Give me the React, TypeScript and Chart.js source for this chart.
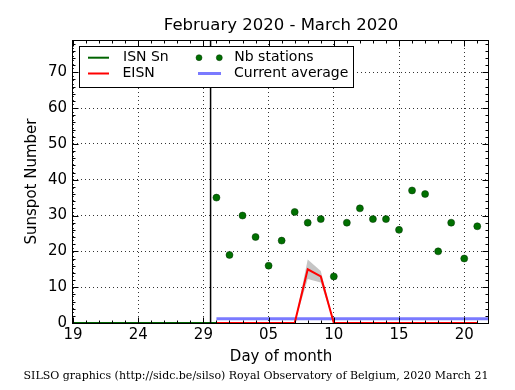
import React, { useEffect, useRef } from 'react';
import { Chart, registerables } from 'chart.js';

Chart.register(...registerables);

// ---------- data ----------
const START = Date.UTC(2020, 1, 19);
const dayX = (iso: string) => (Date.parse(iso + 'T00:00:00Z') - START) / 864e5;

const isnDates = [
  '2020-02-19', '2020-02-20', '2020-02-21', '2020-02-22', '2020-02-23', '2020-02-24',
  '2020-02-25', '2020-02-26', '2020-02-27', '2020-02-28', '2020-02-29', '2020-03-01',
];
const isnValues = [0, 0, 0, 0, 0, 0, 0, 0, 0, 0, 0, 0];

const marchDates = [
  '2020-03-01', '2020-03-02', '2020-03-03', '2020-03-04', '2020-03-05', '2020-03-06',
  '2020-03-07', '2020-03-08', '2020-03-09', '2020-03-10', '2020-03-11', '2020-03-12',
  '2020-03-13', '2020-03-14', '2020-03-15', '2020-03-16', '2020-03-17', '2020-03-18',
  '2020-03-19', '2020-03-20', '2020-03-21',
];
const nbStations = [35, 19, 30, 24, 16, 23, 31, 28, 29, 13, 28, 32, 29, 29, 26, 37, 36, 20, 28, 18, 27];
const eisnValues = [0, 0, 0, 0, 0, 0, 0, 15, 13, 0, 0, 0, 0, 0, 0, 0, 0, 0, 0, 0, 0];
const eisnLower = [0, 0, 0, 0, 0, 0, 0, 12.3, 11.3, 0, 0, 0, 0, 0, 0, 0, 0, 0, 0, 0, 0];
const eisnUpper = [0, 0, 0, 0, 0, 0, 0, 17.7, 14.5, 0, 0, 0, 0, 0, 0, 0, 0, 0, 0, 0, 0];

const currentAverage = 1.2;
const averageDates = ['2020-03-01', '2020-03-22'];

const xTickDates = ['2020-02-19', '2020-02-24', '2020-02-29', '2020-03-05', '2020-03-10', '2020-03-15', '2020-03-20'];
const xTickLabels = ['19', '24', '29', '05', '10', '15', '20'];
const yTicks = [0, 10, 20, 30, 40, 50, 60, 70];

const X_MIN = 0;
const X_MAX = 31.9;
const Y_MIN = 0;
const Y_MAX = 79;
const monthSeparator = 10.55;

const titleText = 'February 2020 - March 2020';
const xTitle = 'Day of month';
const yTitle = 'Sunspot Number';
const footerText = 'SILSO graphics (http://sidc.be/silso) Royal Observatory of Belgium, 2020 March 21';
const legendLabels = ['ISN Sn', 'EISN', 'Nb stations', 'Current average'];

// ---------- styles ----------
const FONT = 'DejaVu Sans';
const GREEN = '#006400';
const DOT = '#007000';
const RED = '#ff0000';
const BLUE = 'rgba(40,40,255,0.62)';
const BAND = 'rgba(140,140,140,0.5)';

const framePlugin = {
  id: 'frameTicks',
  afterDatasetsDraw(chart: any) {
    const { ctx, chartArea, scales } = chart;
    const { left, right, top, bottom } = chartArea;
    const x = scales.x;
    const y = scales.y;
    const L = Math.round(left) - 0.5;
    const R = Math.round(right) - 0.5;
    const T = Math.round(top) + 0.5;
    const B = Math.round(bottom) + 0.5;
    ctx.save();
    ctx.strokeStyle = '#000';
    // month separator
    const sx = x.getPixelForValue(monthSeparator);
    ctx.lineWidth = 1.5;
    ctx.beginPath();
    ctx.moveTo(sx, top);
    ctx.lineTo(sx, bottom);
    ctx.stroke();
    // ticks
    ctx.lineWidth = 1;
    ctx.beginPath();
    for (let d = 0; d <= Math.floor(X_MAX); d++) {
      const px = Math.round(x.getPixelForValue(d)) + 0.5;
      const len = d % 5 === 0 ? 6 : 3;
      ctx.moveTo(px, B);
      ctx.lineTo(px, B - len);
      ctx.moveTo(px, T);
      ctx.lineTo(px, T + len);
    }
    for (let v = 0; v <= Y_MAX; v += 2) {
      const py = Math.round(y.getPixelForValue(v)) + 0.5;
      const len = v % 10 === 0 ? 6 : 3;
      ctx.moveTo(L, py);
      ctx.lineTo(L + len, py);
      ctx.moveTo(R, py);
      ctx.lineTo(R - len, py);
    }
    ctx.stroke();
    // frame
    ctx.lineWidth = 1;
    ctx.strokeRect(L, T, R - L, B - T);
    ctx.restore();
  },
};

const legendPlugin = {
  id: 'customLegend',
  afterDraw(chart: any) {
    const { ctx } = chart;
    ctx.save();
    ctx.fillStyle = '#fff';
    ctx.fillRect(79.5, 46.5, 274, 41);
    ctx.strokeStyle = '#000';
    ctx.lineWidth = 1;
    ctx.strokeRect(79.5, 46.5, 274, 41);
    const r1 = 57.7;
    const r2 = 73.5;
    ctx.lineWidth = 2;
    ctx.strokeStyle = GREEN;
    ctx.beginPath();
    ctx.moveTo(88, r1);
    ctx.lineTo(109, r1);
    ctx.stroke();
    ctx.strokeStyle = RED;
    ctx.beginPath();
    ctx.moveTo(88, r2);
    ctx.lineTo(109, r2);
    ctx.stroke();
    ctx.fillStyle = DOT;
    ctx.strokeStyle = '#003000';
    ctx.lineWidth = 0.5;
    [199, 219.3].forEach((cx) => {
      ctx.beginPath();
      ctx.arc(cx, r1, 3, 0, Math.PI * 2);
      ctx.fill();
      ctx.stroke();
    });
    ctx.strokeStyle = BLUE;
    ctx.lineWidth = 3;
    ctx.beginPath();
    ctx.moveTo(198, r2);
    ctx.lineTo(221, r2);
    ctx.stroke();
    ctx.fillStyle = '#000';
    ctx.font = `14px "${FONT}"`;
    ctx.textBaseline = 'middle';
    ctx.textAlign = 'left';
    ctx.fillText(legendLabels[0], 123, r1);
    ctx.fillText(legendLabels[1], 122.5, r2);
    ctx.fillText(legendLabels[2], 234.3, r1);
    ctx.fillText(legendLabels[3], 234, r2);
    // footer
    ctx.font = '11px "DejaVu Serif"';
    ctx.textAlign = 'center';
    ctx.fillText(footerText, 256, 376);
    ctx.restore();
  },
};

export default function App() {
  const ref = useRef<HTMLCanvasElement>(null);
  useEffect(() => {
    document.body.style.margin = '0';
    const canvas = ref.current!;
    const isnData = isnDates.map((d, i) => ({ x: dayX(d), y: isnValues[i] }));
    const nbData = marchDates.map((d, i) => ({ x: dayX(d), y: nbStations[i] }));
    const eisnData = marchDates.map((d, i) => ({ x: dayX(d), y: eisnValues[i] }));
    const lowData = marchDates.map((d, i) => ({ x: dayX(d), y: eisnLower[i] }));
    const highData = marchDates.map((d, i) => ({ x: dayX(d), y: eisnUpper[i] }));
    const avgData = averageDates.map((d) => ({ x: dayX(d), y: currentAverage }));

    const chart = new Chart(canvas, {
      type: 'line',
      data: {
        datasets: [
          { data: highData, borderWidth: 0, pointRadius: 0, fill: '+1', backgroundColor: BAND, order: 5 },
          { data: lowData, borderWidth: 0, pointRadius: 0, fill: false, order: 5 },
          { data: isnData, borderColor: GREEN, borderWidth: 2, pointRadius: 0, fill: false, order: 4 },
          { data: avgData, borderColor: BLUE, borderWidth: 3, pointRadius: 0, fill: false, order: 3 },
          { data: eisnData, borderColor: RED, borderWidth: 2, pointRadius: 0, fill: false, order: 2 },
          {
            data: nbData,
            showLine: false,
            pointRadius: 3.5,
            pointBackgroundColor: DOT,
            pointBorderColor: '#003000',
            pointBorderWidth: 0.5,
            order: 1,
          },
        ],
      } as any,
      options: {
        responsive: false,
        animation: false,
        devicePixelRatio: 1,
        layout: { padding: { left: 0, right: 26, top: 0, bottom: 20 } },
        plugins: {
          legend: { display: false },
          tooltip: { enabled: false },
          title: {
            display: true,
            text: titleText,
            color: '#000',
            fullSize: false,
            font: { family: FONT, size: 16.5, weight: 'normal' },
            padding: { top: 16, bottom: 4.2 },
          },
        },
        scales: {
          x: {
            type: 'linear',
            min: X_MIN,
            max: X_MAX,
            afterBuildTicks: (s: any) => {
              s.ticks = xTickDates.map((d) => ({ value: dayX(d) }));
            },
            afterFit: (s: any) => {
              s.height = 47;
            },
            ticks: {
              autoSkip: false,
              maxRotation: 0,
              color: '#000',
              padding: 3,
              font: { family: FONT, size: 15 },
              callback: (v: any) => {
                const i = xTickDates.findIndex((d) => Math.abs(dayX(d) - v) < 1e-6);
                return i >= 0 ? xTickLabels[i] : '';
              },
            },
            grid: { color: '#000', lineWidth: 0.8, drawTicks: false },
            border: { display: false, dash: [1, 3] },
            title: {
              display: true,
              text: xTitle,
              color: '#000',
              font: { family: FONT, size: 15 },
              padding: { top: 0, bottom: 4 },
            },
          },
          y: {
            type: 'linear',
            min: Y_MIN,
            max: Y_MAX,
            afterBuildTicks: (s: any) => {
              s.ticks = yTicks.map((v) => ({ value: v }));
            },
            afterFit: (s: any) => {
              s.width = 73;
            },
            ticks: {
              color: '#000',
              padding: 6,
              font: { family: FONT, size: 15 },
            },
            grid: { color: '#000', lineWidth: 0.8, drawTicks: false },
            border: { display: false, dash: [1, 3] },
            title: {
              display: true,
              text: yTitle,
              color: '#000',
              font: { family: FONT, size: 15 },
              padding: { top: 23, bottom: 0 },
            },
          },
        },
      } as any,
      plugins: [framePlugin, legendPlugin],
    });
    return () => chart.destroy();
  }, []);
  return <canvas ref={ref} width={515} height={390} style={{ display: 'block' }} />;
}
